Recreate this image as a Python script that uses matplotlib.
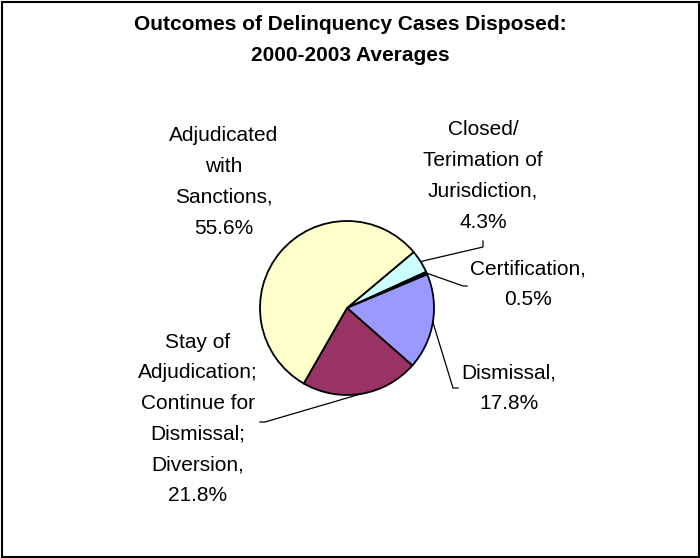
import numpy as np
import matplotlib
matplotlib.use("Agg")
import matplotlib.pyplot as plt
from matplotlib.patches import Rectangle

# ---- data ----
categories = ["Closed/\nTerimation of\nJurisdiction,\n4.3%",
              "Certification,\n0.5%",
              "Dismissal,\n17.8%",
              "Stay of\nAdjudication;\nContinue for\nDismissal;\nDiversion,\n21.8%",
              "Adjudicated\nwith\nSanctions,\n55.6%"]
values = [4.3, 0.5, 17.8, 21.8, 55.6]
colors = ["#CCFFFF", "#000080", "#9999FF", "#993366", "#FFFFCC"]
title = "Outcomes of Delinquency Cases Disposed:\n2000-2003 Averages"

W, H = 700, 558
fig = plt.figure(figsize=(W / 100, H / 100), dpi=100)
ax = fig.add_axes([0, 0, 1, 1])

def Y(y):
    return H - y

cx, cy, r = 347, Y(308), 87
start = 40
wedges, _ = ax.pie(values, colors=colors, startangle=start, counterclock=False,
                   center=(cx, cy), radius=r, frame=True,
                   wedgeprops=dict(edgecolor="black", linewidth=1.3))
ax.set_xlim(0, W)
ax.set_ylim(0, H)
ax.set_aspect("equal")
ax.axis("off")

font = "Liberation Sans"
fs = 15

# label block centres (layout) and leader end points
label_pos = [(483, 176), (528, 284), (509, 388), (198, 419), (224, 182)]
leader_end = [[(483, 247), (483, 241)],
              [(463, 286), (467, 286)],
              [(453, 388), (458, 388)],
              [(265, 422), (260, 422)],
              None]

for w, lab, (lx, ly), le in zip(wedges, categories, label_pos, leader_end):
    ax.text(lx, Y(ly), lab, ha="center", va="center", fontsize=fs,
            family=font, linespacing=1.78, multialignment="center")
    if le is not None:
        mid = np.deg2rad((w.theta1 + w.theta2) / 2)
        sx, sy = cx + r * np.cos(mid), cy + r * np.sin(mid)
        xs = [sx] + [p[0] for p in le]
        ys = [sy] + [Y(p[1]) for p in le]
        ax.plot(xs, ys, color="black", linewidth=0.9)

fig.text(0.5, 1 - 40 / H, title, ha="center", va="center", fontsize=15,
         fontweight="bold", family=font, linespacing=1.75)

fig.patches.append(Rectangle((1.5 / W, 1.5 / H), (W - 3) / W, (H - 3) / H,
                             transform=fig.transFigure, fill=False,
                             edgecolor="black", linewidth=1.5))

fig.savefig("out.png", dpi=100, facecolor="white")
